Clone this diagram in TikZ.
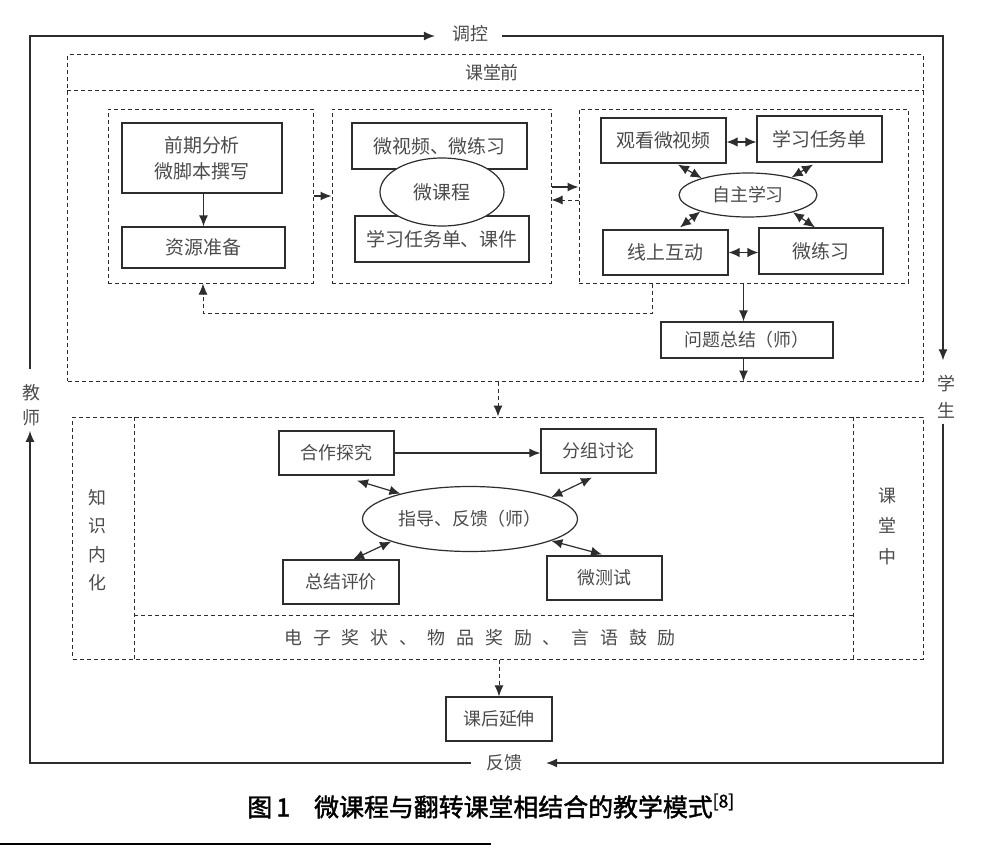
\documentclass[tikz,border=0pt]{standalone}
\usepackage{fontspec}
\setmainfont{Noto Sans CJK SC}
\newfontfamily\capfont[FakeBold=1.6]{Noto Sans CJK SC}
\usetikzlibrary{arrows.meta,shapes.geometric}
\definecolor{lc}{RGB}{45,45,45}
\definecolor{tc}{RGB}{75,75,75}
\begin{document}
\begin{tikzpicture}[x=1bp,y=-1bp,
  box/.style={draw=lc, line width=1.2bp, inner sep=0pt, text=tc, align=center, font=\fontsize{19}{26}\selectfont},
  oval/.style={ellipse, draw=lc, line width=1.2bp, fill=white, inner sep=0pt, text=tc, font=\fontsize{19}{24}\selectfont},
  dbox/.style={draw=lc, line width=1bp, dash pattern=on 4bp off 3bp, inner sep=0pt},
  dsh/.style={draw=lc, line width=1bp, dash pattern=on 4bp off 3bp},
  arr/.style={draw=lc, line width=1.2bp, -{Latex[length=11bp,width=9bp]}},
  darr/.style={draw=lc, line width=1.2bp, {Latex[length=11bp,width=9.5bp]}-{Latex[length=11bp,width=9.5bp]}},
  lbl/.style={text=tc, inner sep=0pt, align=center, font=\fontsize{18}{24}\selectfont}
]
\useasboundingbox (0,0) rectangle (1000,862);

% ---------- pre-class outer box ----------
\node[dbox, minimum width=855bp, minimum height=326bp] (pre) at (495.5,218) {};
\draw[dsh] ([yshift=-36bp]pre.north west) -- ([yshift=-36bp]pre.north east);
\node[lbl] (pret) at (492,73) {课堂前};

% inner dashed boxes
\node[dbox, minimum width=205bp, minimum height=174bp] (boxA) at (210.5,196) {};
\node[dbox, minimum width=219bp, minimum height=174bp] (boxB) at (441.5,196) {};
\node[dbox, minimum width=329bp, minimum height=174bp] (boxC) at (743.5,196) {};

% box A
\node[box, minimum width=160bp, minimum height=70bp] (n1) at (202,158) {前期分析\\微脚本撰写};
\node[box, minimum width=163bp, minimum height=41bp] (n2) at (203.5,247.5) {资源准备};
\draw[arr] (n1.south -| n2.north) -- (n2.north);

% box B
\node[box, minimum width=175bp, minimum height=46bp] (b1) at (439.5,146) {微视频、微练习};
\node[box, minimum width=174bp, minimum height=46bp] (b2) at (442,239) {学习任务单、课件};
\node[oval, minimum width=124bp, minimum height=68bp] (e1) at (442,192) {微课程};

% box C
\node[box, minimum width=125bp, minimum height=45bp] (c1) at (663.5,140.5) {观看微视频};
\node[box, minimum width=125bp, minimum height=46bp] (c2) at (819.5,139) {学习任务单};
\node[box, minimum width=125bp, minimum height=45bp] (c3) at (665.5,252.5) {线上互动};
\node[box, minimum width=124bp, minimum height=46bp] (c4) at (821,251) {微练习};
\node[oval, minimum width=138bp, minimum height=44bp, font=\fontsize{18}{24}\selectfont] (ce) at (748,195) {自主学习};
\draw[darr] ([yshift=-1.5bp]c1.east) -- ([yshift=-1.5bp]c1.east -| c2.west);
\draw[darr] (c3.east) -- (c3.east -| c4.west);
\draw[darr] ([xshift=14.5bp,yshift=-1bp]c1.south) -- (ce.160);
\draw[darr] ([xshift=-6.5bp,yshift=-2bp]c2.south) -- (ce.22);
\draw[darr] (ce.199) -- ([xshift=14.5bp,yshift=2bp]c3.north);
\draw[darr] (ce.339) -- ([xshift=-6bp]c4.north);

\node[box, minimum width=172bp, minimum height=36bp, font=\fontsize{18}{24}\selectfont] (q) at (747,340) {问题总结（师）};

% connectors between boxes
\draw[arr] (boxA.east) -- (boxB.west);
\draw[arr] ([yshift=9bp]boxB.east) -- ([yshift=9bp]boxC.west);
\draw[dsh, -{Latex[length=11bp,width=9bp]}] ([yshift=-4bp]boxC.west) -- ([yshift=-4bp]boxB.east);
\coordinate (fbR) at (652,313);
\coordinate (fbL) at (203,313);
\draw[dsh, -{Latex[length=11bp,width=9bp]}] (boxC.south -| fbR) -- (fbR) -- (fbL) -- (boxA.south -| fbL);
\draw[arr] (boxC.south) -- (boxC.south |- q.north);
\draw[arr] (boxC.south |- q.south) -- (boxC.south |- pre.south);

% ---------- in-class box ----------
\node[dbox, minimum width=850bp, minimum height=242bp] (mid) at (498,538) {};
\draw[dsh] ([xshift=62bp]mid.north west) -- ([xshift=62bp]mid.south west);
\draw[dsh] ([xshift=-70bp]mid.north east) -- ([xshift=-70bp]mid.south east);
\draw[dsh] ([xshift=62bp,yshift=44bp]mid.south west) -- ([xshift=-70bp,yshift=44bp]mid.south east);
\draw[dsh, -{Latex[length=11bp,width=9bp]}] (mid.north |- pre.south) -- (mid.north);

\node[lbl, font=\fontsize{18}{28.5}\selectfont] (zs) at (97,540) {知\\识\\内\\化};
\node[lbl, font=\fontsize{18}{30.5}\selectfont] (ktz) at (887,526) {课\\堂\\中};
\node[lbl] (jl) at (480,638) {电\hspace{10.8bp}子\hspace{10.8bp}奖\hspace{10.8bp}状\hspace{10.8bp}、\hspace{10.8bp}物\hspace{10.8bp}品\hspace{10.8bp}奖\hspace{10.8bp}励\hspace{10.8bp}、\hspace{10.8bp}言\hspace{10.8bp}语\hspace{10.8bp}鼓\hspace{10.8bp}励};

\node[box, minimum width=115bp, minimum height=44bp, font=\fontsize{18}{24}\selectfont] (d1) at (336.5,453) {合作探究};
\node[box, minimum width=115bp, minimum height=44bp, font=\fontsize{18}{24}\selectfont] (d2) at (598.5,451) {分组讨论};
\node[box, minimum width=116bp, minimum height=44bp, font=\fontsize{18}{24}\selectfont] (d3) at (341,582) {总结评价};
\node[box, minimum width=115bp, minimum height=44bp, font=\fontsize{18}{24}\selectfont] (d4) at (604.5,578) {微测试};
\node[oval, minimum width=215bp, minimum height=65bp, font=\fontsize{18}{24}\selectfont] (de) at (470,519) {指导、反馈（师）};
\draw[arr] (d1.east) -- (d1.east -| d2.west);
\draw[darr] ([xshift=20.5bp,yshift=-5bp]d1.south) -- (de.160);
\draw[darr] ([xshift=-6.5bp,yshift=-4bp]d2.south) -- (de.15);
\draw[darr] (de.196.6) -- ([xshift=12bp]d3.north);
\draw[darr] (de.345) -- ([xshift=-2.5bp,yshift=1bp]d4.north);

% after class
\node[box, minimum width=106bp, minimum height=44bp, font=\fontsize{18}{24}\selectfont] (k) at (499,719) {课后延伸};
\draw[dsh, -{Latex[length=11bp,width=9bp]}] (k.north |- mid.south) -- (k.north);

% ---------- outer loop ----------
\node[lbl] (tk) at (470,34) {调控};
\node[lbl] (fk) at (504,763) {反馈};
\node[lbl, font=\fontsize{18}{25}\selectfont] (js) at (31,405) {教\\师};
\node[lbl, font=\fontsize{18}{27}\selectfont] (xs) at (946,397) {学\\生};
\draw[arr] ([xshift=-15bp]fk.west) -| ([xshift=-1bp,yshift=-5bp]js.south);
\draw[arr] ([xshift=-1bp,yshift=15bp]js.north) |- ([xshift=-17bp,yshift=-2bp]tk.west);
\draw[arr] ([xshift=14bp,yshift=-2bp]tk.east) -| ([xshift=-3bp,yshift=15bp]xs.north);
\draw[arr] ([xshift=-3bp,yshift=-5bp]xs.south) |- ([xshift=24bp]fk.east);

% caption
\node[inner sep=0pt, font=\fontsize{25}{28}\capfont] (cap) at (491,806) {图\,1\hspace{24bp}微课程与翻转课堂相结合的教学模式\textsuperscript{[8]}};
\draw[line width=1.3bp] (0,844) -- (491,844);
\end{tikzpicture}
\end{document}
